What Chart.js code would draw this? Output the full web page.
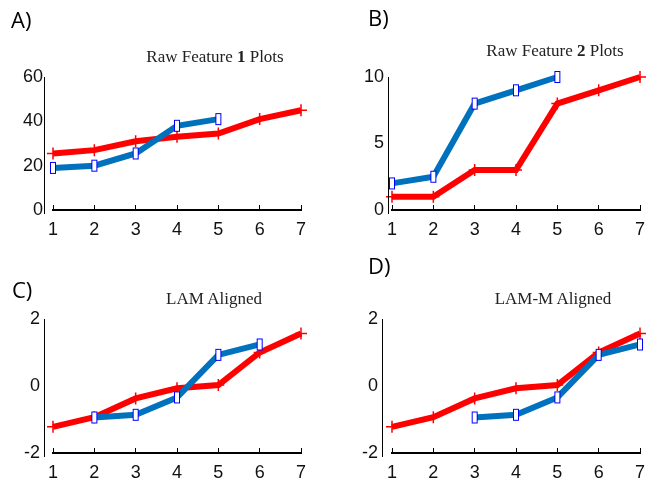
<!DOCTYPE html>
<html>
<head>
<meta charset="utf-8">
<script src="https://cdn.jsdelivr.net/npm/chart.js@4.4.1/dist/chart.umd.min.js"></script>
<style>
  body { margin: 0; background: #fff; }
  #wrap { position: relative; width: 668px; height: 483px; overflow: hidden; }
  .pane { position: absolute; }
  .lbl { position: absolute; font-family: "Open Sans", sans-serif; font-size: 22px; color: #000; line-height: 1; }
  .ttl { position: absolute; font-family: "Liberation Serif", serif; font-size: 17px; color: #222; white-space: nowrap; transform: translateX(-50%); line-height: 1; }
</style>
</head>
<body>
<div id="wrap">
  <div class="pane" style="left:0;top:0;width:334px;height:240px"><canvas id="cA"></canvas></div>
  <div class="pane" style="left:334px;top:0;width:334px;height:240px"><canvas id="cB"></canvas></div>
  <div class="pane" style="left:0;top:240px;width:334px;height:243px"><canvas id="cC"></canvas></div>
  <div class="pane" style="left:334px;top:240px;width:334px;height:243px"><canvas id="cD"></canvas></div>

  <div class="lbl" style="left:11px;top:8px">A)</div>
  <div class="lbl" style="left:368px;top:6px">B)</div>
  <div class="lbl" style="left:12px;top:278px">C)</div>
  <div class="lbl" style="left:368px;top:254px">D)</div>

  <div class="ttl" style="left:215px;top:48px">Raw Feature <b>1</b> Plots</div>
  <div class="ttl" style="left:555px;top:42px">Raw Feature <b>2</b> Plots</div>
  <div class="ttl" style="left:214px;top:290px">LAM Aligned</div>
  <div class="ttl" style="left:553px;top:290px">LAM-M Aligned</div>
</div>
<script>
const xLabels = ['1', '2', '3', '4', '5', '6', '7'];

// A) raw feature 1
const redA  = [25.5, 27, 31, 33, 34.5, 41, 45];
const blueA = [19, 20, 25.5, 38, 41, null, null];

// B) raw feature 2
const redB  = [1, 1, 3, 3, 8, 9, 10];
const blueB = [2, 2.5, 8, 9, 10, null, null];

// C) LAM aligned
const redC  = [-1.22, -0.93, -0.37, -0.07, 0.03, 1.0, 1.57];
const blueC = [null, -0.94, -0.86, -0.34, 0.93, 1.24, null];

// D) LAM-M aligned
const redD  = [-1.22, -0.93, -0.37, -0.07, 0.03, 1.0, 1.57];
const blueD = [null, null, -0.94, -0.86, -0.34, 0.93, 1.24];

// tall narrow box marker
const box = document.createElement('canvas');
box.width = 8; box.height = 14;
(function () {
  const g = box.getContext('2d');
  g.fillStyle = '#fff';
  g.fillRect(1.5, 1.5, 5, 11);
  g.strokeStyle = '#0000ff';
  g.lineWidth = 1;
  g.strokeRect(1.5, 1.5, 5, 11);
})();

// y axis line drawn a bit left of the first x tick
const yLine = {
  id: 'yLine',
  afterDraw(chart, args, opts) {
    const y = chart.scales.y, c = chart.ctx;
    const x = Math.round(chart.chartArea.left - opts.gap) + 0.5;
    c.save();
    c.strokeStyle = '#000';
    c.lineWidth = 1;
    c.beginPath();
    c.moveTo(x, y.top);
    c.lineTo(x, y.bottom + 4);
    c.stroke();
    c.restore();
  }
};

function panel(id, red, blue, ymin, ymax, step, pad, gap, labPad) {
  new Chart(document.getElementById(id), {
    type: 'line',
    data: {
      labels: xLabels,
      datasets: [
        {
          data: red,
          borderColor: '#ff0000',
          borderWidth: 6,
          pointStyle: 'cross',
          pointRadius: 6,
          pointBorderWidth: 1.5,
          pointBorderColor: '#ff0000',
          tension: 0,
          clip: false,
          order: 2
        },
        {
          data: blue,
          borderColor: '#0072bd',
          borderWidth: 6,
          pointStyle: box,
          pointRadius: 6,
          tension: 0,
          clip: false,
          order: 1
        }
      ]
    },
    options: {
      responsive: true,
      maintainAspectRatio: false,
      animation: false,
      layout: { padding: pad },
      plugins: {
        legend: { display: false },
        tooltip: { enabled: false },
        yLine: { gap: gap }
      },
      scales: {
        x: {
          offset: false,
          afterFit(s) { s.height = 30; },
          grid: { drawOnChartArea: false, drawTicks: true, tickLength: -5, color: '#000', lineWidth: 1 },
          border: { display: true, color: '#000', width: 2 },
          ticks: { padding: 14, color: '#111', font: { family: 'Liberation Sans Narrow, Liberation Sans', size: 18 }, maxRotation: 0 }
        },
        y: {
          min: ymin,
          max: ymax,
          afterFit(s) { s.width = pad.yw; },
          grid: { display: false, drawTicks: false },
          border: { display: false },
          ticks: { stepSize: step, padding: labPad, color: '#111', font: { family: 'Liberation Sans Narrow, Liberation Sans', size: 18 } }
        }
      }
    },
    plugins: [yLine]
  });
}

panel('cA', redA, blueA, 0, 60, 20, { left: 0, right: 33, top: 77, bottom: 0, yw: 53 }, 9, 10);
panel('cB', redB, blueB, 0, 10, 5, { left: 0, right: 28, top: 77, bottom: 0, yw: 58 }, 4, 8);
panel('cC', redC, blueC, -2, 2, 2, { left: 0, right: 33, top: 79, bottom: 0, yw: 53 }, 9, 13);
panel('cD', redD, blueD, -2, 2, 2, { left: 0, right: 28, top: 79, bottom: 0, yw: 58 }, 10, 14);
</script>
</body>
</html>
